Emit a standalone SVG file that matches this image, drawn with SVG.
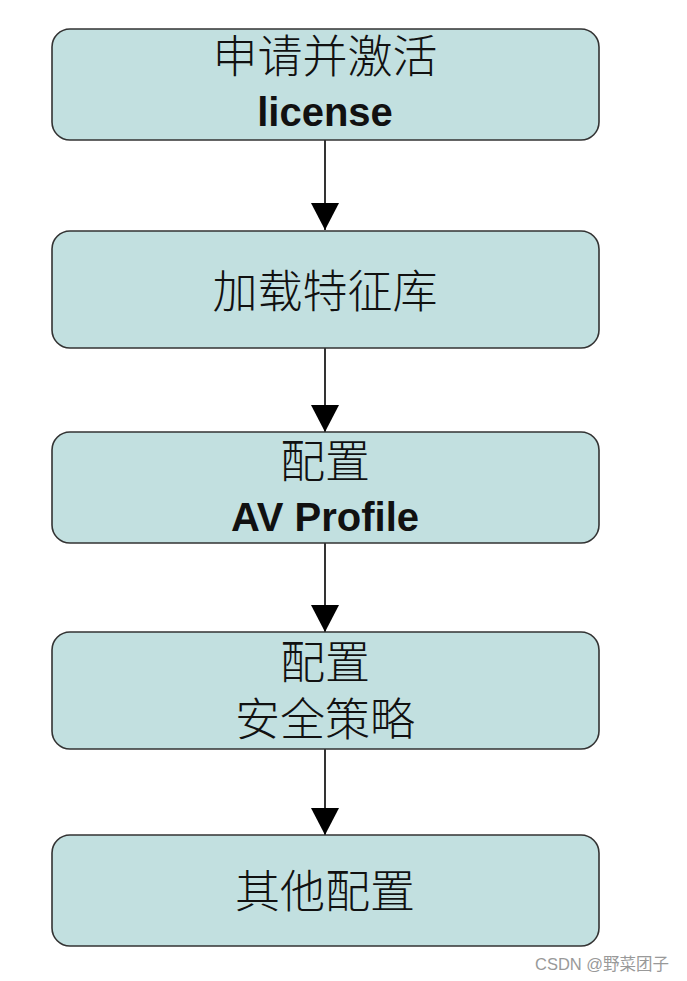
<svg xmlns="http://www.w3.org/2000/svg" width="687" height="981" viewBox="0 0 687 981">
<defs>
<marker id="ah" viewBox="0 0 27 28" refX="27" refY="14" markerWidth="27" markerHeight="28" markerUnits="userSpaceOnUse" orient="auto">
<path d="M0,0 L27,14 L0,28 Z" fill="#000"/>
</marker>
<style>
.box{fill:#c2e0e0;stroke:#333;stroke-width:1.6}
.cn{font-family:"Noto Sans CJK SC","Liberation Sans",sans-serif;font-size:45px;font-weight:300;fill:#111;text-anchor:middle}
.en{font-family:"Liberation Sans",Arial,sans-serif;font-size:40px;font-weight:bold;fill:#111;text-anchor:middle}
.conn{stroke:#000;stroke-width:1.6;fill:none}
.wm{font-family:"Liberation Sans","Noto Sans CJK SC",sans-serif;font-size:16.5px;fill:#999}
</style>
</defs>
<rect width="687" height="981" fill="#fff"/>
<g id="connectors">
<line class="conn" x1="325" y1="140" x2="325" y2="230" marker-end="url(#ah)"/>
<line class="conn" x1="325" y1="348" x2="325" y2="432" marker-end="url(#ah)"/>
<line class="conn" x1="325" y1="543" x2="325" y2="632" marker-end="url(#ah)"/>
<line class="conn" x1="325" y1="749" x2="325" y2="835" marker-end="url(#ah)"/>
</g>
<g id="n1">
<rect class="box" x="52" y="29" width="547" height="111" rx="18"/>
<text class="cn" x="325" y="73">申请并激活</text>
<text class="en" x="325" y="126">license</text>
</g>
<g id="n2">
<rect class="box" x="52" y="231" width="547" height="117" rx="18"/>
<text class="cn" x="325" y="308">加载特征库</text>
</g>
<g id="n3">
<rect class="box" x="52" y="432" width="547" height="111" rx="18"/>
<text class="cn" x="325" y="478">配置</text>
<text class="en" x="325" y="531">AV Profile</text>
</g>
<g id="n4">
<rect class="box" x="52" y="632" width="547" height="117" rx="18"/>
<text class="cn" x="325" y="679">配置</text>
<text class="cn" x="325" y="736">安全策略</text>
</g>
<g id="n5">
<rect class="box" x="52" y="835" width="547" height="111" rx="18"/>
<text class="cn" x="325" y="908">其他配置</text>
</g>
<text class="wm" x="535" y="970">CSDN @野菜团子</text>
</svg>
